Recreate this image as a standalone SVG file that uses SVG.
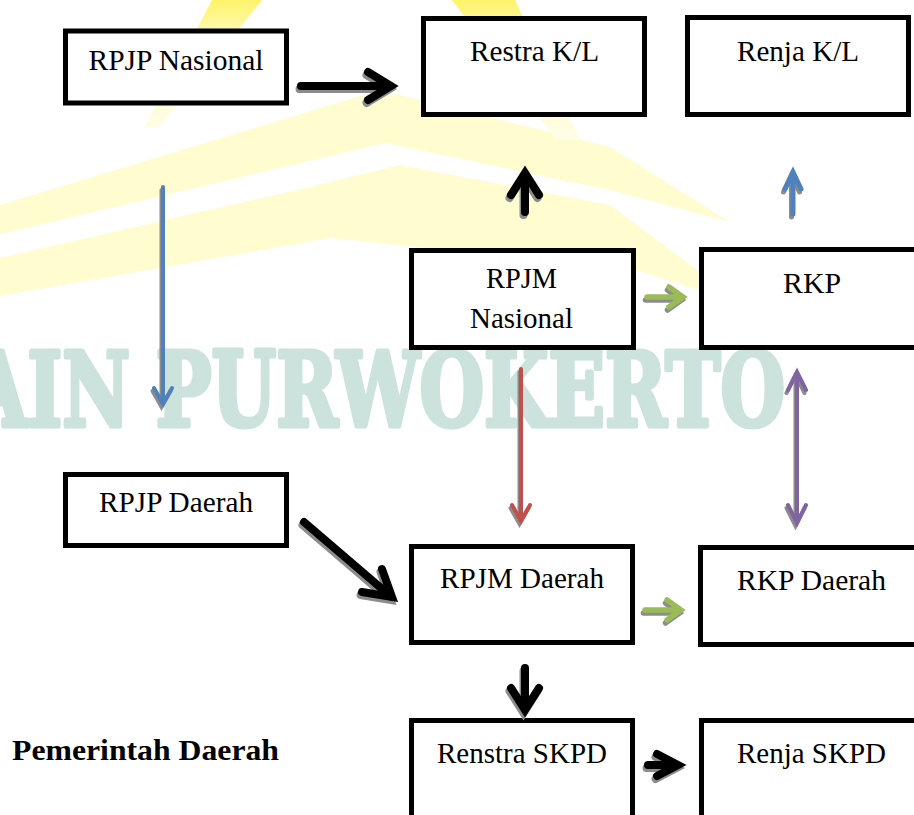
<svg xmlns="http://www.w3.org/2000/svg" xmlns:xlink="http://www.w3.org/1999/xlink" width="914" height="815" viewBox="0 0 914 815">
<style>
.box{fill:#fff;stroke:#000;stroke-width:5}
.lbl{font-family:"Liberation Serif","Times New Roman",serif;font-size:29px;fill:#000;text-anchor:middle}
.bold{font-weight:bold;text-anchor:start}
.wm{font-family:"DejaVu Serif",serif;font-weight:bold;font-size:102px;fill:#cce2dc;stroke:#cce2dc;stroke-width:5;stroke-linejoin:round}
.band{fill:#fffbc4;opacity:0.8}
.arr{fill:none;stroke-linecap:round;stroke-linejoin:miter;stroke-miterlimit:10}
.sh{stroke:#8c8c8c}
.k{stroke:#000}
.b{stroke:#4f81bd}
.g{stroke:#9bbb59}
.r{stroke:#c0504d}
.p{stroke:#8064a2}
</style>
<defs>
<linearGradient id="gs1" x1="0" y1="0" x2="0" y2="1">
<stop offset="0" stop-color="#fff36a"/>
<stop offset="0.3" stop-color="#fffbbf"/>
<stop offset="1" stop-color="#fffde6"/>
</linearGradient>
<path id="a1" class="arr" stroke-width="8" d="M301,86 H386 M368,72 L391,86 L368,100"/>
<path id="a2" class="arr" stroke-width="4" d="M163,187 V402 M154,388 L163,404 L172,388"/>
<path id="a3" class="arr" stroke-width="8" d="M525,212 V177 M511,195 L525,173 L539,195"/>
<path id="a4" class="arr" stroke-width="5" d="M793,214 V175 M785,189 L793,172 L801,189"/>
<path id="a5" class="arr" stroke-width="5.5" d="M647,297 H679 M669,287 L683,297 L669,307"/>
<path id="a6" class="arr" stroke-width="4" d="M521,369 V518 M512,505 L521,521 L530,505"/>
<path id="a7" class="arr" stroke-width="4" d="M797,375 V520 M788,390 L797,372 L806,390 M788,505 L797,523 L806,505"/>
<path id="a8" class="arr" stroke-width="8" d="M304,522 L388,594 M382,569 L392,597 L362,592"/>
<path id="a9" class="arr" stroke-width="5.5" d="M645,610 H677 M667,600 L681,610 L667,620"/>
<path id="a10" class="arr" stroke-width="8" d="M525,668 V705 M511,688 L525,710 L539,688"/>
<path id="a11" class="arr" stroke-width="8" d="M648,765 H673 M657,754 L678,765 L657,776"/>
</defs>
<rect x="0" y="0" width="914" height="815" fill="#fff"/>
<g id="logo">
<polygon class="band" points="0,205 380,90 610,147 730,222 610,190 385,143 0,234"/>
<polygon class="band" points="0,258 310,187 400,165 610,205 700,272 700,290 610,262 450,250 330,238 0,296"/>
<polygon fill="url(#gs1)" points="212,0 262,0 160,126 144,128"/>
<polygon fill="url(#gs1)" points="452,0 515,0 580,140 556,140"/>
</g>
<g id="watermark">
<text class="wm" x="-30" y="426" textLength="815" lengthAdjust="spacingAndGlyphs">AIN PURWOKERTO</text>
</g>
<g id="n-rpjp-nasional"><rect class="box" x="65.5" y="31" width="221" height="72"/><text class="lbl" x="176" y="70" textLength="175" lengthAdjust="spacingAndGlyphs">RPJP Nasional</text></g>
<g id="n-restra-kl"><rect class="box" x="423.5" y="18.5" width="221" height="96"/><text class="lbl" x="534.5" y="61" textLength="129" lengthAdjust="spacingAndGlyphs">Restra K/L</text></g>
<g id="n-renja-kl"><rect class="box" x="687.5" y="17.5" width="221" height="97"/><text class="lbl" x="798" y="61" textLength="122" lengthAdjust="spacingAndGlyphs">Renja K/L</text></g>
<g id="n-rpjm-nasional"><rect class="box" x="411.5" y="250.5" width="222" height="97"/><text class="lbl" x="521.5" y="288" textLength="71" lengthAdjust="spacingAndGlyphs">RPJM</text><text class="lbl" x="521.5" y="328" textLength="103" lengthAdjust="spacingAndGlyphs">Nasional</text></g>
<g id="n-rkp"><rect class="box" x="701.5" y="249.5" width="222" height="98"/><text class="lbl" x="812" y="293" textLength="58" lengthAdjust="spacingAndGlyphs">RKP</text></g>
<g id="n-rpjp-daerah"><rect class="box" x="65.5" y="474.5" width="221" height="71"/><text class="lbl" x="176" y="512" textLength="154" lengthAdjust="spacingAndGlyphs">RPJP Daerah</text></g>
<g id="n-rpjm-daerah"><rect class="box" x="411.5" y="546.5" width="221" height="96"/><text class="lbl" x="522" y="588" textLength="164" lengthAdjust="spacingAndGlyphs">RPJM Daerah</text></g>
<g id="n-rkp-daerah"><rect class="box" x="700.5" y="547.5" width="222" height="97"/><text class="lbl" x="811.5" y="590" textLength="149" lengthAdjust="spacingAndGlyphs">RKP Daerah</text></g>
<g id="n-renstra-skpd"><rect class="box" x="411.5" y="720.5" width="221" height="110"/><text class="lbl" x="522" y="763" textLength="170" lengthAdjust="spacingAndGlyphs">Renstra SKPD</text></g>
<g id="n-renja-skpd"><rect class="box" x="701.5" y="720.5" width="222" height="110"/><text class="lbl" x="811.5" y="763" textLength="149" lengthAdjust="spacingAndGlyphs">Renja SKPD</text></g>
<g id="label-pemerintah"><text class="lbl bold" x="12" y="760" textLength="267" lengthAdjust="spacingAndGlyphs">Pemerintah Daerah</text></g>
<g id="connectors">
<g transform="translate(-1.5,3)">
<use xlink:href="#a1" class="sh"/><use xlink:href="#a2" class="sh"/><use xlink:href="#a3" class="sh"/><use xlink:href="#a4" class="sh"/><use xlink:href="#a5" class="sh"/><use xlink:href="#a6" class="sh"/><use xlink:href="#a7" class="sh"/><use xlink:href="#a8" class="sh"/><use xlink:href="#a9" class="sh"/><use xlink:href="#a10" class="sh"/><use xlink:href="#a11" class="sh"/>
</g>
<use xlink:href="#a1" class="k"/>
<use xlink:href="#a2" class="b"/>
<use xlink:href="#a3" class="k"/>
<use xlink:href="#a4" class="b"/>
<use xlink:href="#a5" class="g"/>
<use xlink:href="#a6" class="r"/>
<use xlink:href="#a7" class="p"/>
<use xlink:href="#a8" class="k"/>
<use xlink:href="#a9" class="g"/>
<use xlink:href="#a10" class="k"/>
<use xlink:href="#a11" class="k"/>
</g>
</svg>
